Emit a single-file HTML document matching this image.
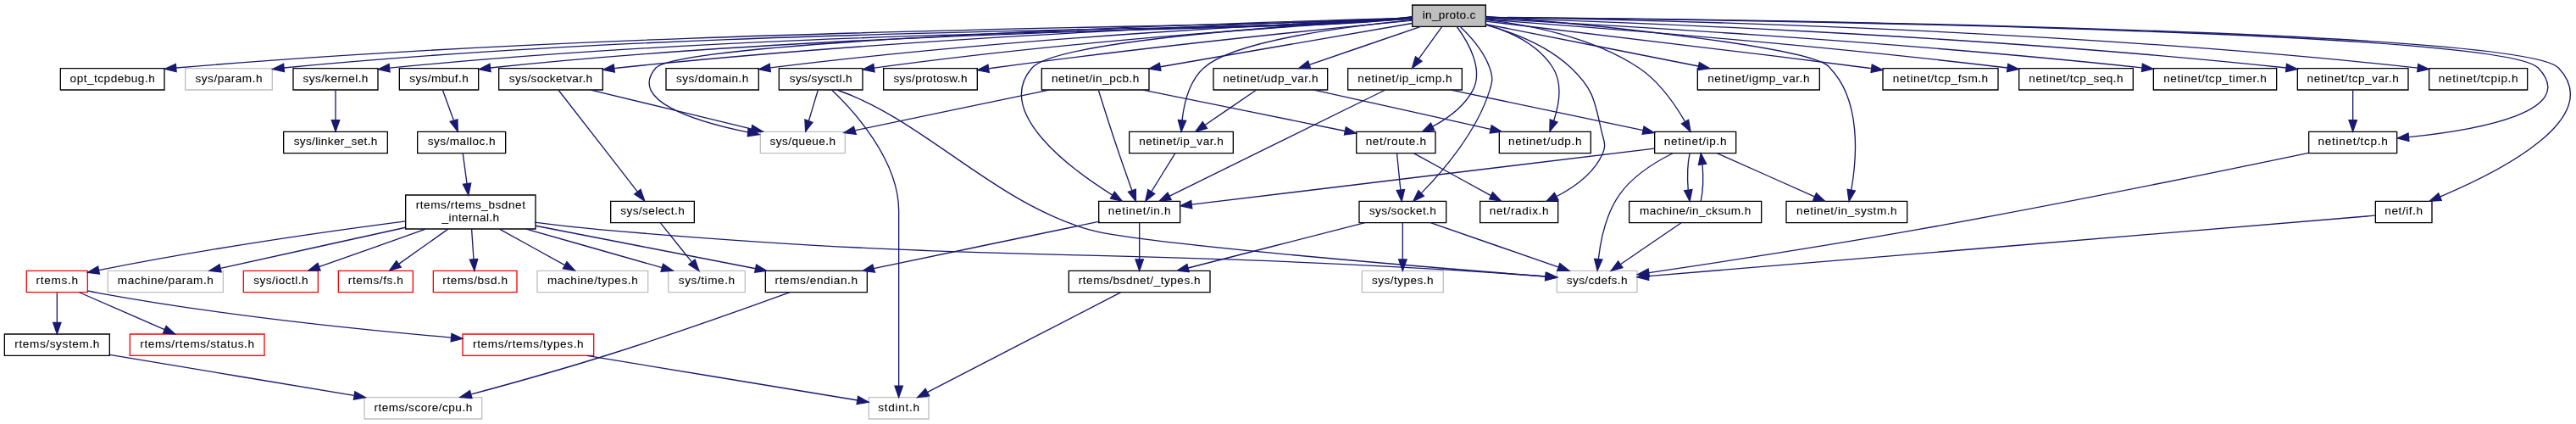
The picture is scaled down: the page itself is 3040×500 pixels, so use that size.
<!DOCTYPE html>
<html><head><meta charset="utf-8"><title>in_proto.c Include Dependency Graph</title>
<style>
html,body{margin:0;padding:0;background:#fff;width:3040px;height:500px;}
svg{display:block;background:#fff;will-change:transform;}
text{font-family:"Liberation Sans",sans-serif;font-size:10.2px;text-anchor:middle;fill:#000;stroke:#000;stroke-width:0.05px;}
.e{fill:none;stroke:#191970;stroke-width:1;}
.a{fill:#191970;stroke:#191970;stroke-width:1;}
polygon{stroke-width:1;}

</style></head><body>
<svg width="3040" height="500" viewBox="0 0 2280 375">
<g transform="translate(4 371)">
<polygon fill="#bfbfbf" stroke="#000" points="1246,-347.5 1246,-366.5 1311,-366.5 1311,-347.5 1246,-347.5"/>
<text x="1278.5" y="-354.5" textLength="47.05">in_proto.c</text>
<polygon fill="#fff" stroke="#000" points="49.5,-291.5 49.5,-310.5 141.5,-310.5 141.5,-291.5 49.5,-291.5"/>
<text x="95.5" y="-298.5" textLength="75.08">opt_tcpdebug.h</text>
<path class="e" d="M1245.65,-356.15C1155.68,-345.21 613.05,-350.04 151.84,-310.98"/>
<polygon class="a" points="152.08,-307.49 141.82,-309.97 151.5,-314.46 152.08,-307.49"/>
<polygon fill="#fff" stroke="#bfbfbf" points="160,-291.5 160,-310.5 237,-310.5 237,-291.5 160,-291.5"/>
<text x="198.5" y="-298.5" textLength="59.21">sys/param.h</text>
<path class="e" d="M1245.82,-356.30C1184.68,-341.45 667.51,-351.69 247.31,-311.02"/>
<polygon class="a" points="247.62,-307.54 237.32,-309.87 246.93,-314.5 247.62,-307.54"/>
<polygon fill="#fff" stroke="#000" points="255.5,-291.5 255.5,-310.5 330.5,-310.5 330.5,-291.5 255.5,-291.5"/>
<text x="293" y="-298.5" textLength="57.61">sys/kernel.h</text>
<path class="e" d="M1245.95,-356.10C1181.22,-340.76 743.18,-350.48 340.83,-310.89"/>
<polygon class="a" points="341.04,-307.39 330.72,-309.69 340.28,-314.34 341.04,-307.39"/>
<polygon fill="#fff" stroke="#000" points="1199,-174 1199,-193 1276,-193 1276,-174 1199,-174"/>
<text x="1237.5" y="-181" textLength="59.10">sys/socket.h</text>
<path class="e" d="M1288.66,-347.19 C1297.41,-338.87 1309.4,-325.54 1314.5,-311 1317.44,-302.61 1317.16,-299.48 1314.5,-291 1302.91,-254.07 1272.87,-219.32 1253.92,-200.08"/>
<polygon class="a" points="1256.37,-197.58 1246.8,-193.04 1251.45,-202.56 1256.37,-197.58"/>
<polygon fill="#fff" stroke="#000" points="437.5,-291.5 437.5,-310.5 529.5,-310.5 529.5,-291.5 437.5,-291.5"/>
<text x="483.5" y="-298.5" textLength="73.73">sys/socketvar.h</text>
<path class="e" d="M1245.81,-355.02 C1142.52,-351.71 813.99,-339.51 543.5,-311 542.23,-310.87 540.95,-310.73 539.66,-310.58"/>
<polygon class="a" points="539.99,-307.09 529.64,-309.34 539.13,-314.04 539.99,-307.09"/>
<polygon fill="#fff" stroke="#bfbfbf" points="669,-235.5 669,-254.5 744,-254.5 744,-235.5 669,-235.5"/>
<text x="706.5" y="-242.5" textLength="58.13">sys/queue.h</text>
<path class="e" d="M1245.87,-355.14 C1110.57,-351.41 599.68,-335.72 576.5,-311 551.4,-282.07 611.2,-263.62 657.73,-254.03"/>
<polygon class="a" points="658.33,-257.41 668.02,-252.01 657.69,-250.55 658.33,-257.41"/>
<polygon fill="#fff" stroke="#000" points="585.5,-291.5 585.5,-310.5 667.5,-310.5 667.5,-291.5 585.5,-291.5"/>
<text x="626.5" y="-298.5" textLength="64.01">sys/domain.h</text>
<path class="e" d="M1245.75,-354.74 C1156.38,-351.07 900.66,-338.85 677.9,-311.05"/>
<polygon class="a" points="678.01,-307.53 667.65,-309.75 677.13,-314.48 678.01,-307.53"/>
<polygon fill="#fff" stroke="#000" points="349.5,-291.5 349.5,-310.5 419.5,-310.5 419.5,-291.5 349.5,-291.5"/>
<text x="384.5" y="-298.5" textLength="52.27">sys/mbuf.h</text>
<path class="e" d="M1245.92,-356.02C1151.19,-344.10 770.28,-346.56 429.99,-311.00"/>
<polygon class="a" points="430.33,-307.52 419.97,-309.73 429.44,-314.46 430.33,-307.52"/>
<polygon fill="#fff" stroke="#000" points="778,-291.5 778,-310.5 861,-310.5 861,-291.5 778,-291.5"/>
<text x="819.5" y="-298.5" textLength="65.37">sys/protosw.h</text>
<path class="e" d="M1245.79,-352.89 C1177.07,-346.23 1012.75,-329.68 875.5,-311 874.04,-310.8 872.55,-310.59 871.05,-310.38"/>
<polygon class="a" points="871.46,-306.9 861.06,-308.91 870.44,-313.83 871.46,-306.9"/>
<polygon fill="#fff" stroke="#000" points="685.5,-291.5 685.5,-310.5 759.5,-310.5 759.5,-291.5 685.5,-291.5"/>
<text x="722.5" y="-298.5" textLength="55.45">sys/sysctl.h</text>
<path class="e" d="M1245.92,-354.26 C1166.43,-349.79 956.09,-336.47 769.63,-310.86"/>
<polygon class="a" points="770.03,-307.38 759.64,-309.47 769.07,-314.31 770.03,-307.38"/>
<polygon fill="#fff" stroke="#000" points="2098.5,-174 2098.5,-193 2148.5,-193 2148.5,-174 2098.5,-174"/>
<text x="2123.5" y="-181" textLength="33.47">net/if.h</text>
<path class="e" d="M1311.06,-355.76 C1477.51,-354.35 2226.98,-346.09 2260.5,-311 2302.71,-266.81 2208.2,-219.02 2155.63,-196.95"/>
<polygon class="a" points="2156.93,-193.7 2146.35,-193.14 2154.27,-200.18 2156.93,-193.7"/>
<polygon fill="#fff" stroke="#000" points="1306,-174 1306,-193 1375,-193 1375,-174 1306,-174"/>
<text x="1340.5" y="-181" textLength="52.40">net/radix.h</text>
<path class="e" d="M1311.22,-348.98 C1334.62,-342.51 1365.56,-330.83 1386.5,-311 1406.56,-292 1407.35,-281.94 1413.5,-255 1415.48,-246.33 1417.98,-242.8 1414.48,-235 1406.68,-217.69 1389.67,-205.46 1373.91,-197.36"/>
<polygon class="a" points="1375.31,-194.01 1364.85,-193.07 1371.8,-200.39 1375.31,-194.01"/>
<polygon fill="#fff" stroke="#000" points="1196.5,-235.5 1196.5,-254.5 1266.5,-254.5 1266.5,-235.5 1196.5,-235.5"/>
<text x="1231.5" y="-242.5" textLength="53.49">net/route.h</text>
<path class="e" d="M1285.63,-347.19 C1295.12,-334.3 1309.6,-309.8 1299.5,-291 1291.88,-276.82 1277.6,-266.35 1264.09,-259.1"/>
<polygon class="a" points="1265.47,-255.88 1254.95,-254.59 1262.37,-262.16 1265.47,-255.88"/>
<polygon fill="#fff" stroke="#000" points="968.5,-174 968.5,-193 1040.5,-193 1040.5,-174 968.5,-174"/>
<text x="1004.5" y="-181" textLength="55.30">netinet/in.h</text>
<path class="e" d="M1245.86,-354.45 C1159.79,-350.03 931.67,-336.03 909.5,-311 875.28,-272.36 942.5,-222.28 980.67,-198.38"/>
<polygon class="a" points="982.51,-201.35 989.22,-193.15 978.86,-195.38 982.51,-201.35"/>
<polygon fill="#fff" stroke="#000" points="1577,-174 1577,-193 1684,-193 1684,-174 1577,-174"/>
<text x="1630.5" y="-181" textLength="88.90">netinet/in_systm.h</text>
<path class="e" d="M1311.01,-356.50C1418.45,-348.57 1606.63,-328.12 1615.50,-311.00 1643.74,-282.34 1639.42,-230.53 1634.55,-202.94"/>
<polygon class="a" points="1637.97,-202.18 1632.59,-193.05 1631.1,-203.53 1637.97,-202.18"/>
<polygon fill="#fff" stroke="#000" points="1460.5,-235.5 1460.5,-254.5 1532.5,-254.5 1532.5,-235.5 1460.5,-235.5"/>
<text x="1496.5" y="-242.5" textLength="55.31">netinet/ip.h</text>
<path class="e" d="M1311.06,-353.5 C1346.9,-349.42 1404.93,-338.74 1446.5,-311 1464.4,-299.06 1478.59,-278.56 1487.21,-263.78"/>
<polygon class="a" points="1490.5,-265.07 1492.27,-254.63 1484.37,-261.68 1490.5,-265.07"/>
<polygon fill="#fff" stroke="#000" points="995.5,-235.5 995.5,-254.5 1087.5,-254.5 1087.5,-235.5 995.5,-235.5"/>
<text x="1041.5" y="-242.5" textLength="74.74">netinet/ip_var.h</text>
<path class="e" d="M1245.93,-353.27 C1192.18,-348.13 1088.18,-335.28 1061.5,-311 1048.56,-299.22 1043.9,-279.29 1042.27,-264.6"/>
<polygon class="a" points="1045.76,-264.32 1041.53,-254.61 1038.78,-264.84 1045.76,-264.32"/>
<polygon fill="#fff" stroke="#000" points="1189,-291.5 1189,-310.5 1290,-310.5 1290,-291.5 1189,-291.5"/>
<text x="1239.5" y="-298.5" textLength="83.50">netinet/ip_icmp.h</text>
<path class="e" d="M1272.06,-347.08 C1266.55,-339.46 1258.47,-328.26 1251.74,-318.94"/>
<polygon class="a" points="1254.51,-316.81 1245.82,-310.75 1248.84,-320.91 1254.51,-316.81"/>
<polygon fill="#fff" stroke="#000" points="918,-291.5 918,-310.5 1013,-310.5 1013,-291.5 918,-291.5"/>
<text x="965.5" y="-298.5" textLength="77.56">netinet/in_pcb.h</text>
<path class="e" d="M1245.89,-350.37 C1193.2,-341.28 1088.66,-323.25 1023.18,-311.95"/>
<polygon class="a" points="1023.47,-308.45 1013.02,-310.2 1022.28,-315.35 1023.47,-308.45"/>
<polygon fill="#fff" stroke="#000" points="1498.5,-291.5 1498.5,-310.5 1606.5,-310.5 1606.5,-291.5 1498.5,-291.5"/>
<text x="1552.5" y="-298.5" textLength="90.18">netinet/igmp_var.h</text>
<path class="e" d="M1311.01,-349.59 C1357.45,-340.44 1443.33,-323.52 1499.17,-312.51"/>
<polygon class="a" points="1500.09,-315.9 1509.23,-310.53 1498.74,-309.03 1500.09,-315.9"/>
<polygon fill="#fff" stroke="#000" points="2039.5,-235.5 2039.5,-254.5 2117.5,-254.5 2117.5,-235.5 2039.5,-235.5"/>
<text x="2078.5" y="-242.5" textLength="61.68">netinet/tcp.h</text>
<path class="e" d="M1311,-355.73 C1475.48,-354.19 2209.64,-345.43 2242.5,-311 2279.58,-272.15 2188.91,-256.02 2128.11,-249.72"/>
<polygon class="a" points="2128.18,-246.21 2117.89,-248.72 2127.5,-253.18 2128.18,-246.21"/>
<polygon fill="#fff" stroke="#000" points="1662.5,-291.5 1662.5,-310.5 1764.5,-310.5 1764.5,-291.5 1662.5,-291.5"/>
<text x="1713.5" y="-298.5" textLength="84.22">netinet/tcp_fsm.h</text>
<path class="e" d="M1311.19,-352.21 C1375.72,-344.68 1524.01,-327.19 1648.5,-311 1649.77,-310.83 1651.06,-310.67 1652.35,-310.5"/>
<polygon class="a" points="1652.97,-313.95 1662.42,-309.15 1652.04,-307.01 1652.97,-313.95"/>
<polygon fill="#fff" stroke="#000" points="1783,-291.5 1783,-310.5 1884,-310.5 1884,-291.5 1783,-291.5"/>
<text x="1833.5" y="-298.5" textLength="83.48">netinet/tcp_seq.h</text>
<path class="e" d="M1311,-353.7 C1388.8,-348.07 1592.06,-332.51 1772.83,-311.01"/>
<polygon class="a" points="1773.28,-314.48 1782.79,-309.82 1772.44,-307.53 1773.28,-314.48"/>
<polygon fill="#fff" stroke="#000" points="1902,-291.5 1902,-310.5 2011,-310.5 2011,-291.5 1902,-291.5"/>
<text x="1956.5" y="-298.5" textLength="91.24">netinet/tcp_timer.h</text>
<path class="e" d="M1311.24,-354.4 C1401.85,-349.8 1663.75,-335.37 1891.75,-311.12"/>
<polygon class="a" points="1892.32,-314.58 1901.89,-310.04 1891.58,-307.62 1892.32,-314.58"/>
<polygon fill="#fff" stroke="#000" points="2029.5,-291.5 2029.5,-310.5 2127.5,-310.5 2127.5,-291.5 2029.5,-291.5"/>
<text x="2078.5" y="-298.5" textLength="81.11">netinet/tcp_var.h</text>
<path class="e" d="M1311.14,-355.11 C1413.8,-352.07 1739.44,-340.7 2019.55,-311"/>
<polygon class="a" points="2019.92,-314.48 2029.49,-309.93 2019.18,-307.52 2019.92,-314.48"/>
<polygon fill="#fff" stroke="#000" points="2146,-291.5 2146,-310.5 2233,-310.5 2233,-291.5 2146,-291.5"/>
<text x="2189.5" y="-298.5" textLength="70.44">netinet/tcpip.h</text>
<path class="e" d="M1311.34,-355.65 C1424.43,-354.14 1808.28,-346.62 2135.73,-310.94"/>
<polygon class="a" points="2136.33,-314.39 2145.88,-309.82 2135.56,-307.43 2136.33,-314.39"/>
<polygon fill="#fff" stroke="#000" points="1323,-235.5 1323,-254.5 1404,-254.5 1404,-235.5 1323,-235.5"/>
<text x="1363.5" y="-242.5" textLength="64.82">netinet/udp.h</text>
<path class="e" d="M1311.3,-349.27 C1332.16,-343.1 1357.6,-331.67 1370.5,-311 1379.22,-297.04 1375.81,-278.03 1371.22,-264.18"/>
<polygon class="a" points="1374.47,-262.88 1367.66,-254.76 1367.92,-265.35 1374.47,-262.88"/>
<polygon fill="#fff" stroke="#000" points="1070,-291.5 1070,-310.5 1171,-310.5 1171,-291.5 1070,-291.5"/>
<text x="1120.5" y="-298.5" textLength="84.25">netinet/udp_var.h</text>
<path class="e" d="M1253.46,-347.44 C1226.88,-338.36 1184.69,-323.94 1154.98,-313.78"/>
<polygon class="a" points="1156.01,-310.44 1145.42,-310.52 1153.75,-317.06 1156.01,-310.44"/>
<polygon fill="#fff" stroke="#000" points="247,-235.5 247,-254.5 339,-254.5 339,-235.5 247,-235.5"/>
<text x="293" y="-242.5" textLength="74.02">sys/linker_set.h</text>
<path class="e" d="M293,-291.08 C293,-284.01 293,-273.86 293,-264.99"/>
<polygon class="a" points="296.5,-264.75 293,-254.75 289.5,-264.75 296.5,-264.75"/>
<polygon fill="#fff" stroke="#bfbfbf" points="1201.5,-112.5 1201.5,-131.5 1273.5,-131.5 1273.5,-112.5 1201.5,-112.5"/>
<text x="1237.5" y="-119.5" textLength="54.50">sys/types.h</text>
<path class="e" d="M1237.5,-173.98 C1237.5,-165.58 1237.5,-152.48 1237.5,-141.66"/>
<polygon class="a" points="1241,-141.51 1237.5,-131.51 1234,-141.51 1241,-141.51"/>
<polygon fill="#fff" stroke="#000" points="942,-112.5 942,-131.5 1067,-131.5 1067,-112.5 942,-112.5"/>
<text x="1004.5" y="-119.5" textLength="107.77">rtems/bsdnet/_types.h</text>
<path class="e" d="M1204.12,-173.98 C1162.94,-163.46 1092.85,-145.56 1047.63,-134.01"/>
<polygon class="a" points="1048.38,-130.59 1037.82,-131.51 1046.64,-137.37 1048.38,-130.59"/>
<polygon fill="#fff" stroke="#bfbfbf" points="1374,-112.5 1374,-131.5 1445,-131.5 1445,-112.5 1374,-112.5"/>
<text x="1409.5" y="-119.5" textLength="53.71">sys/cdefs.h</text>
<path class="e" d="M1262.14,-173.98 C1291.78,-163.72 1341.68,-146.46 1375.1,-134.9"/>
<polygon class="a" points="1376.6,-138.09 1384.9,-131.51 1374.31,-131.47 1376.6,-138.09"/>
<polygon fill="#fff" stroke="#bfbfbf" points="765,-0.5 765,-19.5 818,-19.5 818,-0.5 765,-0.5"/>
<text x="791.5" y="-7.5" textLength="36.51">stdint.h</text>
<path class="e" d="M987.84,-112.37 C950.72,-93.21 861.26,-47.04 817.05,-24.22"/>
<polygon class="a" points="818.52,-20.95 808.09,-19.59 815.05,-27.21 818.52,-20.95"/>
<polygon fill="#fff" stroke="#000" points="536.5,-174 536.5,-193 610.5,-193 610.5,-174 536.5,-174"/>
<text x="573.5" y="-181" textLength="56.58">sys/select.h</text>
<path class="e" d="M490.3,-291.32 C505.15,-272.26 540.8,-226.45 560.25,-201.46"/>
<polygon class="a" points="563.04,-203.43 566.61,-193.28 557.59,-199.31 563.04,-203.43"/>
<path class="e" d="M518.9,-291.44 C557.44,-282.1 619.26,-267.12 661.29,-256.93"/>
<polygon class="a" points="661.78,-260.33 671.26,-254.52 660.82,-253.53 661.78,-260.33"/>
<polygon fill="#fff" stroke="#bfbfbf" points="587.5,-112.5 587.5,-131.5 655.5,-131.5 655.5,-112.5 587.5,-112.5"/>
<text x="621.5" y="-119.5" textLength="49.74">sys/time.h</text>
<path class="e" d="M580.38,-173.98 C587.65,-164.96 599.3,-150.52 608.34,-139.31"/>
<polygon class="a" points="611.08,-141.49 614.64,-131.51 605.63,-137.09 611.08,-141.49"/>
<polygon fill="#fff" stroke="#000" points="365.5,-235.5 365.5,-254.5 443.5,-254.5 443.5,-235.5 365.5,-235.5"/>
<text x="404.5" y="-242.5" textLength="59.78">sys/malloc.h</text>
<path class="e" d="M387.87,-291.08 C390.5,-283.93 394.27,-273.64 397.54,-264.69"/>
<polygon class="a" points="400.93,-265.31 401.19,-254.75 394.34,-263.55 400.93,-265.31"/>
<polygon fill="#fff" stroke="#000" points="355,-168.5 355,-198.5 470,-198.5 470,-168.5 355,-168.5"/>
<text x="412.5" y="-186.5" textLength="96.92">rtems/rtems_bsdnet</text>
<text x="412.5" y="-175.5" textLength="50.77">_internal.h</text>
<path class="e" d="M405.65,-235.48 C406.59,-228.47 407.97,-218.19 409.25,-208.7"/>
<polygon class="a" points="412.75,-208.9 410.61,-198.52 405.81,-207.97 412.75,-208.9"/>
<path class="e" d="M469.14,-174.35 C487.24,-171.99 507.4,-169.62 525.99,-168 860.48,-138.8 947.41,-151.97 1283.48,-132 1310.23,-130.41 1340.11,-128.29 1364.08,-126.51"/>
<polygon class="a" points="1365,-129.98 1374.29,-125.74 1363.8,-123 1365,-129.98"/>
<path class="e" d="M461.77,-168.47 C498.45,-158.03 547.88,-143.96 581.99,-134.25"/>
<polygon class="a" points="582.96,-137.61 591.62,-131.51 581.04,-130.88 582.96,-137.61"/>
<polygon fill="#fff" stroke="#ff0000" points="19.5,-112.5 19.5,-131.5 73.5,-131.5 73.5,-112.5 19.5,-112.5"/>
<text x="46.5" y="-119.5" textLength="37.11">rtems.h</text>
<path class="e" d="M354.98,-175.35 C291.04,-167.03 184.53,-152.08 83.63,-132.07"/>
<polygon class="a" points="84.06,-128.59 73.57,-130.05 82.68,-135.45 84.06,-128.59"/>
<polygon fill="#fff" stroke="#ff0000" points="295.5,-112.5 295.5,-131.5 361.5,-131.5 361.5,-112.5 295.5,-112.5"/>
<text x="328.5" y="-119.5" textLength="48.72">rtems/fs.h</text>
<path class="e" d="M392.59,-168.4 C379.51,-159.13 362.42,-147.03 349.18,-137.65"/>
<polygon class="a" points="350.91,-134.58 340.72,-131.66 346.86,-140.29 350.91,-134.58"/>
<polygon fill="#fff" stroke="#ff0000" points="379.5,-112.5 379.5,-131.5 453.5,-131.5 453.5,-112.5 379.5,-112.5"/>
<text x="416.5" y="-119.5" textLength="57.53">rtems/bsd.h</text>
<path class="e" d="M413.45,-168.4 C413.98,-160.47 414.65,-150.46 415.23,-141.86"/>
<polygon class="a" points="418.74,-141.87 415.92,-131.66 411.76,-141.4 418.74,-141.87"/>
<polygon fill="#fff" stroke="#bfbfbf" points="471.5,-112.5 471.5,-131.5 569.5,-131.5 569.5,-112.5 471.5,-112.5"/>
<text x="520.5" y="-119.5" textLength="80.07">machine/types.h</text>
<path class="e" d="M438.09,-168.4 C455.57,-158.77 478.59,-146.09 495.86,-136.58"/>
<polygon class="a" points="497.72,-139.55 504.79,-131.66 494.34,-133.42 497.72,-139.55"/>
<polygon fill="#fff" stroke="#000" points="673.5,-112.5 673.5,-131.5 763.5,-131.5 763.5,-112.5 673.5,-112.5"/>
<text x="718.5" y="-119.5" textLength="73.06">rtems/endian.h</text>
<path class="e" d="M470.06,-171.31 C525.96,-160.44 610.17,-144.06 664.74,-133.45"/>
<polygon class="a" points="665.43,-136.89 674.57,-131.54 664.09,-130.01 665.43,-136.89"/>
<polygon fill="#fff" stroke="#bfbfbf" points="91.5,-112.5 91.5,-131.5 193.5,-131.5 193.5,-112.5 91.5,-112.5"/>
<text x="142.5" y="-119.5" textLength="84.78">machine/param.h</text>
<path class="e" d="M354.91,-169.81 C306.24,-159.08 237.3,-143.89 191.31,-133.76"/>
<polygon class="a" points="191.8,-130.28 181.28,-131.55 190.3,-137.12 191.8,-130.28"/>
<polygon fill="#fff" stroke="#ff0000" points="211.5,-112.5 211.5,-131.5 277.5,-131.5 277.5,-112.5 211.5,-112.5"/>
<text x="244.5" y="-119.5" textLength="48.30">sys/ioctl.h</text>
<path class="e" d="M372.69,-168.4 C344,-158.24 305.69,-144.67 278.44,-135.02"/>
<polygon class="a" points="279.54,-131.7 268.95,-131.66 277.2,-138.3 279.54,-131.7"/>
<polygon fill="#fff" stroke="#000" points="0,-56.5 0,-75.5 93,-75.5 93,-56.5 0,-56.5"/>
<text x="46.5" y="-63.5" textLength="75.05">rtems/system.h</text>
<path class="e" d="M46.5,-112.08 C46.5,-105.01 46.5,-94.86 46.5,-85.99"/>
<polygon class="a" points="50,-85.75 46.5,-75.75 43,-85.75 50,-85.75"/>
<polygon fill="#fff" stroke="#ff0000" points="111,-56.5 111,-75.5 230,-75.5 230,-56.5 111,-56.5"/>
<text x="170.5" y="-63.5" textLength="101.04">rtems/rtems/status.h</text>
<path class="e" d="M66.15,-112.44 C86.46,-103.6 118.4,-89.69 141.6,-79.59"/>
<polygon class="a" points="143.17,-82.72 150.94,-75.52 140.38,-76.3 143.17,-82.72"/>
<polygon fill="#fff" stroke="#ff0000" points="405.5,-56.5 405.5,-75.5 521.5,-75.5 521.5,-56.5 405.5,-56.5"/>
<text x="463.5" y="-63.5" textLength="97.99">rtems/rtems/types.h</text>
<path class="e" d="M73.55,-113.85 C76.56,-113.17 79.59,-112.53 82.5,-112 191.13,-92.09 318.87,-79.09 395.4,-72.41"/>
<polygon class="a" points="395.73,-75.89 405.39,-71.54 395.12,-68.92 395.73,-75.89"/>
<polygon fill="#fff" stroke="#bfbfbf" points="318.5,-0.5 318.5,-19.5 422.5,-19.5 422.5,-0.5 318.5,-0.5"/>
<text x="370.5" y="-7.5" textLength="86.83">rtems/score/cpu.h</text>
<path class="e" d="M93.27,-57.21 C150.21,-47.72 246.52,-31.66 309.31,-21.2"/>
<polygon class="a" points="310.18,-24.6 319.47,-19.5 309.03,-17.7 310.18,-24.6"/>
<path class="e" d="M515.47,-56.44 C582.27,-45.45 696.57,-26.63 754.91,-17.02"/>
<polygon class="a" points="755.49,-20.48 764.79,-15.4 754.35,-13.57 755.49,-20.48"/>
<path class="e" d="M695.2,-112.45 C659.81,-99.58 590.32,-74.73 530.5,-56 490.99,-43.63 445.51,-30.99 413.17,-22.27"/>
<polygon class="a" points="413.71,-18.79 403.15,-19.58 411.9,-25.55 413.71,-18.79"/>
<path class="e" d="M732.3,-291.32 C751.55,-273.19 791.5,-229.27 791.5,-184.5 791.5,-184.5 791.5,-184.5 791.5,-121 791.5,-88.95 791.5,-51.64 791.5,-29.75"/>
<polygon class="a" points="795,-29.56 791.5,-19.56 788,-29.56 795,-29.56"/>
<path class="e" d="M737.27,-291.31C813.28,-265.15 875.03,-192.46 959.5,-168 997.43,-156.1 1256.94,-134.87 1363.73,-126.52"/>
<polygon class="a" points="1364.18,-129.99 1373.88,-125.72 1363.64,-123.01 1364.18,-129.99"/>
<path class="e" d="M719.93,-291.08 C717.74,-283.77 714.55,-273.18 711.83,-264.1"/>
<polygon class="a" points="715.18,-262.69 709.03,-254.75 708.42,-265.33 715.18,-262.69"/>
<path class="e" d="M2098.09,-180.38 C1993.01,-171.63 1591.59,-138.17 1455.18,-126.81"/>
<polygon class="a" points="1455.32,-123.31 1445.07,-125.96 1454.74,-130.28 1455.32,-123.31"/>
<path class="e" d="M1232.36,-235.48 C1233.21,-227.08 1234.53,-213.98 1235.62,-203.16"/>
<polygon class="a" points="1239.12,-203.31 1236.64,-193.01 1232.16,-202.61 1239.12,-203.31"/>
<path class="e" d="M1247.19,-235.48 C1265.04,-225.71 1294.54,-209.58 1315.57,-198.08"/>
<polygon class="a" points="1317.15,-201.04 1324.84,-193.01 1314.24,-194.98 1317.15,-201.04"/>
<path class="e" d="M1004.5,-173.98 C1004.5,-165.58 1004.5,-152.48 1004.5,-141.66"/>
<polygon class="a" points="1008,-141.51 1004.5,-131.51 1001,-141.51 1008,-141.51"/>
<path class="e" d="M969.22,-175.14 C919.03,-164.71 826.88,-145.55 769.34,-133.59"/>
<polygon class="a" points="770.35,-130.16 759.71,-131.59 768.29,-137.01 770.35,-130.16"/>
<path class="e" d="M1476.59,-235.45 C1461.48,-227.96 1441.36,-215.67 1429.5,-199 1417.42,-182.02 1412.63,-158.24 1410.74,-141.83"/>
<polygon class="a" points="1414.22,-141.46 1409.84,-131.81 1407.25,-142.09 1414.22,-141.46"/>
<path class="e" d="M1460.32,-239.62 C1372.53,-229.01 1148.3,-201.89 1050.86,-190.11"/>
<polygon class="a" points="1051.08,-186.61 1040.73,-188.88 1050.24,-193.56 1051.08,-186.61"/>
<path class="e" d="M1515.7,-235.48 C1538.29,-225.45 1576,-208.7 1602,-197.15"/>
<polygon class="a" points="1603.62,-200.27 1611.34,-193.01 1600.78,-193.87 1603.62,-200.27"/>
<polygon fill="#fff" stroke="#000" points="1438,-174 1438,-193 1555,-193 1555,-174 1438,-174"/>
<text x="1496.5" y="-181" textLength="98.45">machine/in_cksum.h</text>
<path class="e" d="M1491.6,-235.48 C1489.77,-227.08 1489.3,-213.98 1490.19,-203.16"/>
<polygon class="a" points="1493.69,-203.4 1491.6,-193.01 1486.75,-202.43 1493.69,-203.4"/>
<path class="e" d="M1484.04,-173.98 C1470.08,-164.43 1447.24,-148.81 1430.51,-137.37"/>
<polygon class="a" points="1432.17,-134.27 1421.94,-131.51 1428.22,-140.04 1432.17,-134.27"/>
<path class="e" d="M1501.4,-193.01 C1503.23,-201.4 1503.7,-214.5 1502.82,-225.32"/>
<polygon class="a" points="1499.31,-225.09 1501.4,-235.48 1506.25,-226.05 1499.31,-225.09"/>
<path class="e" d="M1036.2,-235.48 C1030.76,-226.73 1022.14,-212.87 1015.26,-201.81"/>
<polygon class="a" points="1018.04,-199.65 1009.79,-193.01 1012.1,-203.35 1018.04,-199.65"/>
<path class="e" d="M1221.84,-291.32 C1180.99,-271.24 1079.81,-221.51 1031.29,-197.67"/>
<polygon class="a" points="1032.57,-194.39 1022.05,-193.12 1029.48,-200.68 1032.57,-194.39"/>
<path class="e" d="M1280.22,-291.44 C1326.47,-281.73 1401.78,-265.9 1450.22,-255.73"/>
<polygon class="a" points="1451.06,-259.12 1460.12,-253.64 1449.62,-252.27 1451.06,-259.12"/>
<path class="e" d="M924.53,-291.44 C877.79,-281.71 801.62,-265.84 752.77,-255.66"/>
<polygon class="a" points="753.74,-252.21 743.08,-253.64 751.6,-259.07 753.74,-252.21"/>
<path class="e" d="M1007.65,-291.44 C1056.44,-281.54 1136.48,-265.29 1186.46,-255.14"/>
<polygon class="a" points="1187.24,-258.56 1196.34,-253.14 1185.85,-251.7 1187.24,-258.56"/>
<path class="e" d="M968.27,-291.14 C972.21,-278.6 979.71,-254.99 986.5,-235 990.15,-224.24 994.42,-212.26 997.87,-202.67"/>
<polygon class="a" points="1001.24,-203.64 1001.36,-193.05 994.66,-201.26 1001.24,-203.64"/>
<path class="e" d="M2039.24,-235.74 C1969.71,-221.23 1820.28,-190.55 1693.5,-168 1609.75,-153.1 1511.67,-138.1 1455.44,-129.73"/>
<polygon class="a" points="1455.84,-126.26 1445.44,-128.25 1454.82,-133.18 1455.84,-126.26"/>
<path class="e" d="M2078.5,-291.08 C2078.5,-284.01 2078.5,-273.86 2078.5,-264.99"/>
<polygon class="a" points="2082,-264.75 2078.5,-254.75 2075,-264.75 2082,-264.75"/>
<path class="e" d="M1107.81,-291.32 C1095.6,-282.98 1076.92,-270.21 1062.5,-260.35"/>
<polygon class="a" points="1064.39,-257.41 1054.16,-254.65 1060.44,-263.19 1064.39,-257.41"/>
<path class="e" d="M1159,-291.44 C1201.31,-282.04 1269.32,-266.93 1315.17,-256.74"/>
<polygon class="a" points="1316.17,-260.1 1325.18,-254.52 1314.65,-253.27 1316.17,-260.1"/>
</g>
</svg>
</body></html>
